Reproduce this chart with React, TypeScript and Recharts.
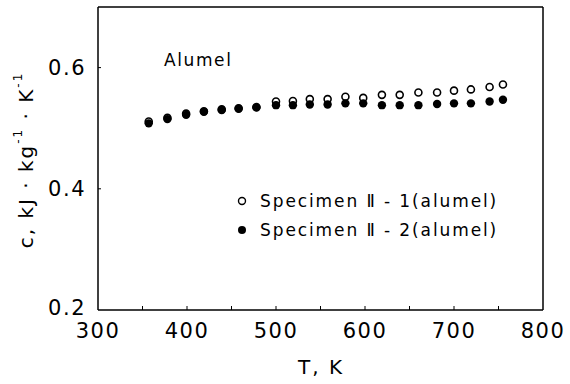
import React from 'react';
import { ScatterChart, Scatter, XAxis, YAxis, ReferenceLine, Legend } from 'recharts';

const temps = [357, 378, 399, 419, 439, 458, 478, 500, 519, 538, 558, 578, 598, 619, 639, 660, 681, 700, 719, 740, 755];
const specimen1 = [0.511, 0.517, 0.524, 0.528, 0.531, 0.533, 0.535, 0.544, 0.545, 0.548, 0.548, 0.552, 0.550, 0.555, 0.555, 0.559, 0.559, 0.562, 0.564, 0.568, 0.572];
const specimen2 = [0.508, 0.515, 0.522, 0.527, 0.530, 0.532, 0.534, 0.538, 0.538, 0.539, 0.539, 0.541, 0.541, 0.538, 0.538, 0.538, 0.540, 0.541, 0.541, 0.544, 0.547];
const xTicks = [300, 350, 400, 450, 500, 550, 600, 650, 700, 750, 800];
const xLabels = [300, 400, 500, 600, 700, 800];
const yTicks = [0.2, 0.4, 0.6];
const seriesNames = ['Specimen Ⅱ - 1(alumel)', 'Specimen Ⅱ - 2(alumel)'];
const title = 'Alumel';

const data1 = temps.map((t, i) => ({ t, c: specimen1[i] }));
const data2 = temps.map((t, i) => ({ t, c: specimen2[i] }));

const FONT = '"DejaVu Sans", sans-serif';
const W = 400;

const XTick = (props: any) => {
  const { x, y, payload } = props;
  const v = payload.value;
  const show = xLabels.includes(v);
  return (
    <g>
      {v !== 300 && v !== 800 && <line x1={x} x2={x} y1={y} y2={y - 4} stroke="#000" strokeWidth={1} />}
      {show && (
        <text x={x} y={y + 21} textAnchor="middle" dominantBaseline="central" fontFamily={FONT} fontWeight={W} fontSize={21} letterSpacing={1.5} fill="#000">
          {v}
        </text>
      )}
    </g>
  );
};

const YTick = (props: any) => {
  const { x, y, payload } = props;
  const v = payload.value;
  return (
    <g>
      {v !== 0.2 && <line x1={x} x2={x + 3} y1={y} y2={y} stroke="#000" strokeWidth={1} />}
      <text x={x - 12} y={y - (v === 0.2 ? 2 : 0)} textAnchor="end" dominantBaseline="central" fontFamily={FONT} fontWeight={W} fontSize={21} letterSpacing={1.5} fill="#000">
        {v.toFixed(1)}
      </text>
    </g>
  );
};

const OpenDot = (props: any) => {
  const { cx, cy } = props;
  return <circle cx={cx} cy={cy} r={3.5} fill="none" stroke="#000" strokeWidth={1.6} />;
};
const FilledDot = (props: any) => {
  const { cx, cy } = props;
  return <circle cx={cx} cy={cy} r={4.2} fill="#000" stroke="none" />;
};

const LegendContent = () => (
  <svg width={280} height={60} style={{ overflow: 'visible', display: 'block' }}>
    <circle cx={5} cy={8} r={3.5} fill="none" stroke="#000" strokeWidth={1.4} />
    <text x={23} y={8} dominantBaseline="central" fontFamily={FONT} fontWeight={W} fontSize={17} letterSpacing={1.9} fill="#000">{seriesNames[0]}</text>
    <circle cx={5} cy={37} r={4} fill="#000" />
    <text x={23} y={37} dominantBaseline="central" fontFamily={FONT} fontWeight={W} fontSize={17} letterSpacing={1.9} fill="#000">{seriesNames[1]}</text>
  </svg>
);

const YLabel = () => (
  <text
    transform="translate(26,160) rotate(-90)"
    textAnchor="middle"
    dominantBaseline="central"
    fontFamily={FONT}
    fontWeight={W}
    fontSize={20}
    letterSpacing={2}
    fill="#000"
  >
    <tspan>c,  kJ · kg</tspan>
    <tspan dy={-8} fontSize={12}>-1</tspan>
    <tspan dy={8}> · K</tspan>
    <tspan dy={-8} fontSize={12}>-1</tspan>
  </text>
);

const XLabel = () => (
  <text x={321} y={367} textAnchor="middle" dominantBaseline="central" fontFamily={FONT} fontWeight={W} fontSize={20} letterSpacing={2} fill="#000">
    T, K
  </text>
);

export default function App() {
  return (
    <div style={{ position: 'absolute', left: 0, top: 0, width: 570, height: 384, background: '#fff' }}>
      <ScatterChart width={570} height={384} margin={{ top: 7, right: 27, bottom: 0, left: 0 }}>
        <XAxis
          type="number"
          dataKey="t"
          domain={[300, 800]}
          ticks={xTicks}
          interval={0}
          tickSize={0}
          tickMargin={0}
          tickLine={false}
          tick={<XTick />}
          height={74}
          axisLine={{ stroke: '#000', strokeWidth: 1.5 }}
          label={<XLabel />}
          allowDataOverflow
        />
        <YAxis
          type="number"
          dataKey="c"
          domain={[0.2, 0.7]}
          ticks={yTicks}
          interval={0}
          tickSize={0}
          tickMargin={0}
          tickLine={false}
          tick={<YTick />}
          width={98}
          axisLine={{ stroke: '#000', strokeWidth: 1.5 }}
          label={<YLabel />}
          allowDataOverflow
        />
        <ReferenceLine y={0.7} stroke="#000" strokeWidth={1.5} />
        <ReferenceLine x={800} stroke="#000" strokeWidth={1.5} />
        <ReferenceLine
          y={0.7}
          stroke="none"
          label={{ value: title, position: 'insideTopLeft', dx: 61, dy: 42, fontFamily: FONT, fontWeight: W, fontSize: 17, fill: '#000', letterSpacing: 1.6 } as any}
        />
        <Legend
          content={<LegendContent />}
          layout="vertical"
          align="center"
          verticalAlign="middle"
          wrapperStyle={{ position: 'absolute', left: 237, top: 193, width: 280, height: 60 }}
        />
        <Scatter name={seriesNames[1]} data={data2} shape={<FilledDot />} isAnimationActive={false} />
        <Scatter name={seriesNames[0]} data={data1} shape={<OpenDot />} isAnimationActive={false} />
      </ScatterChart>
    </div>
  );
}
